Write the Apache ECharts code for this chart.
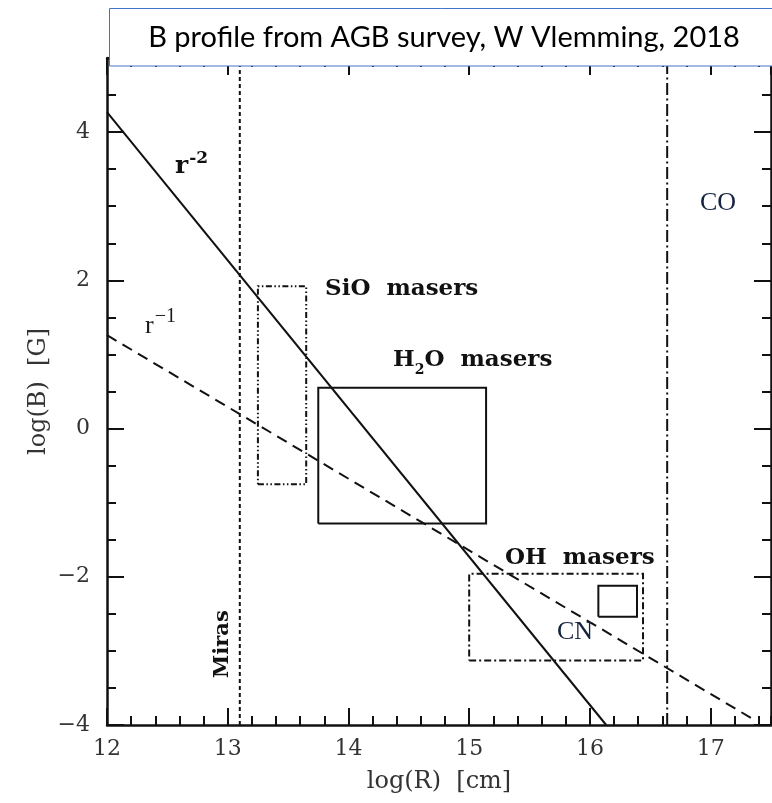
<!DOCTYPE html>
<html>
<head>
<meta charset="utf-8">
<script src="https://cdn.jsdelivr.net/npm/echarts@6/dist/echarts.min.js"></script>
<style>
  html, body { margin: 0; padding: 0; background: #fff; }
  #chart { width: 772px; height: 803px; }
</style>
</head>
<body>
<div id="chart"></div>
<script>
// Axis extents (log10 units)
const xRange = [12, 17.5];
const yRange = [-4, 5];

// Field-strength power laws, [log R, log B]
const rMinus2Line = [[12.0, 4.27], [16.135, -4.0]];
const rMinus1Line = [[12.0, 1.26], [17.35, -3.92]];

// Radial boundaries (log R)
const mirasR = 13.1;
const coR = 16.64;

// Regions: [log R min, log R max, log B min, log B max]
const sioBox = [13.25, 13.65, -0.75, 1.92];
const h2oBox = [13.75, 15.14, -1.28, 0.55];
const ohBox  = [15.0, 16.44, -3.13, -1.96];
const cnBox  = [16.07, 16.39, -2.54, -2.12];

const titleText = 'B profile from AGB survey, W Vlemming, 2018';

const INK = '#111';
const SERIF = '"DejaVu Serif", serif';
const TIMES = '"Liberation Serif", serif';

function rectPath(b) {
  return [[b[0], b[2]], [b[1], b[2]], [b[1], b[3]], [b[0], b[3]], [b[0], b[2]]];
}
function vLine(x) {
  return [[x, yRange[0]], [x, yRange[1]]];
}
function lineSeries(name, data, type, width) {
  return {
    name, type: 'line', data, symbol: 'none', silent: true, clip: true,
    xAxisIndex: 0, yAxisIndex: 0, z: 3,
    lineStyle: { color: INK, width: width || 2, type: type || 'solid', join: 'miter', cap: 'butt' }
  };
}

function makeAxis(dim, position, interval, tickLen, withLine, labels) {
  const range = dim === 'x' ? xRange : yRange;
  const ax = {
    type: 'value', position, min: range[0], max: range[1], interval,
    gridIndex: 0,
    splitLine: { show: false },
    axisLine: { show: withLine, onZero: false, lineStyle: { color: INK, width: 2.5 } },
    axisTick: { show: true, inside: true, length: tickLen, lineStyle: { color: INK, width: 2 } },
    axisLabel: { show: false },
    nameMoveOverlap: false
  };
  if (labels) {
    const top = dim === 'x' ? 17 : 4;
    ax.axisLabel = {
      show: true, inside: false,
      margin: dim === 'x' ? 13 : 17,
      color: '#333', fontFamily: SERIF, fontSize: 22,
      showMaxLabel: false,
      formatter: v => (v > top + 1e-9 ? '' : String(Math.round(v)).replace('-', '\u2212'))
    };
  }
  return ax;
}

const xAxes = [
  makeAxis('x', 'bottom', 1, 17, true, true),
  makeAxis('x', 'bottom', 0.2, 9, false, false),
  makeAxis('x', 'top', 1, 17, true, false),
  makeAxis('x', 'top', 0.2, 9, false, false)
];
Object.assign(xAxes[0], {
  name: 'log(R)  [cm]', nameLocation: 'middle', nameGap: 45,
  nameTextStyle: { color: '#333', fontFamily: SERIF, fontSize: 24 }
});

const yAxes = [
  makeAxis('y', 'left', 2, 17, true, true),
  makeAxis('y', 'left', 0.5, 9, false, false),
  makeAxis('y', 'right', 2, 17, true, false),
  makeAxis('y', 'right', 0.5, 9, false, false)
];
Object.assign(yAxes[0], {
  name: 'log(B)  [G]', nameLocation: 'middle', nameGap: 56, nameRotate: 90,
  nameTextStyle: { color: '#333', fontFamily: SERIF, fontSize: 24 }
});

const chart = echarts.init(document.getElementById('chart'), null, { renderer: 'canvas' });

chart.setOption({
  animation: false,
  backgroundColor: '#fff',
  grid: { left: 107, right: 1, top: 58, bottom: 78, containLabel: false, outerBoundsMode: 'none' },
  xAxis: xAxes,
  yAxis: yAxes,
  series: [
    lineSeries('r^-2', rMinus2Line, 'solid', 2),
    lineSeries('r^-1', rMinus1Line, [11, 7], 2),
    lineSeries('Miras', vLine(mirasR), [4, 3], 2),
    lineSeries('CO', vLine(coR), [12, 3.5, 2, 3.5], 2),
    lineSeries('SiO', rectPath(sioBox), [6, 2.5, 1.5, 2.5, 1.5, 2.5], 2),
    lineSeries('H2O', rectPath(h2oBox), 'solid', 2),
    lineSeries('OH', rectPath(ohBox), [7, 3, 2, 3], 2),
    lineSeries('CN', rectPath(cnBox), 'solid', 2)
  ]
});

// ---- annotations ----
const ctx = document.createElement('canvas').getContext('2d');
function textWidth(str, size, family, weight) {
  ctx.font = `${weight || 'normal'} ${size}px ${family}`;
  return ctx.measureText(str).width;
}
function px(x, y) {
  return chart.convertToPixel({ gridIndex: 0 }, [x, y]);
}
// text placed by its left edge and baseline
function label(str, x, baseline, size, family, weight, fill) {
  return {
    type: 'text', z: 50, silent: true,
    style: {
      text: str, x, y: baseline - 0.33 * size,
      fontSize: size, fontFamily: family, fontWeight: weight || 'normal',
      fill: fill || INK, textAlign: 'left', textVerticalAlign: 'middle',
      align: 'left', verticalAlign: 'middle'
    }
  };
}

const els = [];

// SiO masers
let p = px(13.806, 1.776);
els.push(label('SiO  masers', p[0], p[1], 23, SERIF, 'bold'));

// H2O masers with subscript
p = px(14.369, 0.818);
let wH = textWidth('H', 23, SERIF, 'bold');
let w2 = textWidth('2', 14, SERIF, 'bold');
els.push(label('H', p[0], p[1], 23, SERIF, 'bold'));
els.push(label('2', p[0] + wH, p[1] + 7, 14, SERIF, 'bold'));
els.push(label('O  masers', p[0] + wH + w2, p[1], 23, SERIF, 'bold'));

// OH masers
p = px(15.297, -1.845);
els.push(label('OH  masers', p[0], p[1], 23, SERIF, 'bold'));

// CN, CO
p = px(15.727, -2.866);
els.push(label('CN', p[0], p[1], 26, TIMES, 'normal', '#14233f'));
p = px(16.912, 2.923);
els.push(label('CO', p[0], p[1], 26, TIMES, 'normal', '#14233f'));

// r^-2
p = px(12.563, 3.422);
let wr = textWidth('r', 25, SERIF, 'bold');
els.push(label('r', p[0], p[1], 25, SERIF, 'bold'));
els.push(label('-2', p[0] + wr + 1, p[1] - 11, 17, SERIF, 'bold'));

// r^-1
p = px(12.315, 1.263);
wr = textWidth('r', 26, TIMES, 'normal');
els.push(label('r', p[0], p[1], 26, TIMES, 'normal', '#1a1a1a'));
els.push(label('\u22121', p[0] + wr + 1, p[1] - 12, 20, TIMES, 'normal', '#1a1a1a'));

// Miras (vertical)
p = px(12.953, -2.908);
els.push({
  type: 'text', z: 50, silent: true, x: p[0], y: p[1], rotation: Math.PI / 2,
  style: {
    text: 'Miras', x: 0, y: 0, fontSize: 21, fontFamily: SERIF, fontWeight: 'bold',
    fill: INK, textAlign: 'center', textVerticalAlign: 'middle', align: 'center', verticalAlign: 'middle'
  }
});

// Title box
const titleFamily = 'Lato, "Open Sans", sans-serif';
const tw = textWidth(titleText, 28, titleFamily, 'normal');
const titleSize = Math.max(24, Math.min(32, 28 * 592 / tw));
els.push({
  type: 'rect', z: 90, silent: true,
  shape: { x: 109.5, y: 8.5, width: 700, height: 57.5 },
  style: { fill: '#fff', stroke: '#4472c4', lineWidth: 1 }
});
els.push({
  type: 'text', z: 91, silent: true,
  style: {
    text: titleText, x: 444, y: 38, fontSize: titleSize, fontFamily: titleFamily,
    fill: '#000', textAlign: 'center', textVerticalAlign: 'middle', align: 'center', verticalAlign: 'middle'
  }
});

chart.setOption({ graphic: { elements: els } });
</script>
</body>
</html>
